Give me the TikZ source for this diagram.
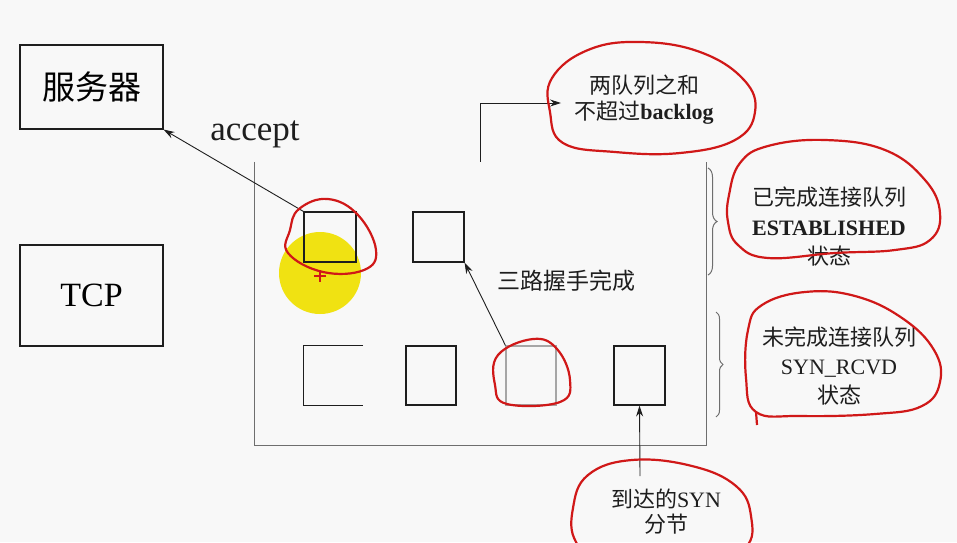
\documentclass[tikz,border=0pt]{standalone}
\usepackage{fontspec}
\setmainfont{Liberation Serif}
\newfontfamily\cjk{Noto Sans CJK SC}
\usetikzlibrary{decorations.pathreplacing,arrows.meta}
\definecolor{bgc}{HTML}{F8F8F8}
\definecolor{pen}{HTML}{D01818}
\definecolor{hl}{HTML}{F0E212}
\definecolor{ink}{HTML}{1E1E1E}
\definecolor{frame}{HTML}{6E6E6E}
\begin{document}
\begin{tikzpicture}[x=1pt,y=-1pt,
  box/.style={draw=ink,line width=1.1pt,inner sep=0pt},
  sq/.style={draw=ink,line width=1.1pt,inner sep=0pt},
  arr/.style={draw=ink,line width=0.9pt,-{Stealth[length=11pt,width=7pt]}},
  redpen/.style={draw=pen,line width=2.2pt,line join=round},
  lbl/.style={inner sep=0pt,align=center,text=ink},
  brc/.style={draw=frame,line width=1pt,decorate,decoration={brace,amplitude=9pt}}]
\fill[bgc] (0,0) rectangle (957,542);
\useasboundingbox (0,0) rectangle (957,542);
\clip (0,0) rectangle (957,542);

% left boxes
\node[box,minimum width=143pt,minimum height=84pt,font=\fontsize{33}{33}\selectfont\cjk] (srv) at (91.5,87) {服务器};
\node[box,minimum width=143pt,minimum height=101pt,font=\fontsize{34}{34}\selectfont] (tcp) at (91.5,295.5) {TCP};

% queue frame
\node[inner sep=0pt,minimum width=451pt,minimum height=283pt] (q) at (480.5,303.5) {};
\draw[frame,line width=1pt] (q.north west) -- (q.south west) -- (q.south east) -- (q.north east);

% highlight
\fill[hl] (320,273) circle (41pt);

% squares
\node[sq,minimum width=52pt,minimum height=50pt] (s1) at (330,237) {};
\node[sq,minimum width=51pt,minimum height=50pt] (s2) at (438.5,237) {};
\node[inner sep=0pt,minimum width=59pt,minimum height=59pt] (ba) at (333.5,375.5) {};
\draw[ink,line width=1.1pt] (ba.north east) -- (ba.north west) -- (ba.south west) -- (ba.south east);
\node[sq,minimum width=50pt,minimum height=59pt] (bb) at (431,375.5) {};
\node[sq,draw=gray!70,minimum width=50pt,minimum height=59pt] (bc) at (531,375.5) {};
\node[sq,minimum width=51pt,minimum height=59pt] (bd) at (639.5,375.5) {};

% braces
\draw[brc] (708,168) -- (708,275);
\draw[brc,decoration={brace,amplitude=7pt}] (716,312) -- (716,417);

% labels
\node[lbl,font=\fontsize{35}{35}\selectfont] (acc) at (255,134) {accept};
\node[lbl,font=\fontsize{23}{23}\selectfont\cjk] (hs) at (566,281) {三路握手完成};
\node[lbl,font=\fontsize{22}{26}\selectfont] (t1) at (644,100) {{\cjk 两队列之和}\\{\cjk 不超过}\textbf{backlog}};
\node[lbl,font=\fontsize{22}{29.5}\selectfont] (t2) at (829,227) {{\cjk 已完成连接队列}\\\textbf{ESTABLISHED}\\{\cjk 状态}};
\node[lbl,font=\fontsize{22}{29}\selectfont] (t3) at (839,366) {{\cjk 未完成连接队列}\\SYN\_RCVD\\{\cjk 状态}};
\node[lbl,font=\fontsize{22}{25}\selectfont] (t4) at (666,512) {{\cjk 到达的}SYN\\{\cjk 分节}};

% connectors
\coordinate (b1in) at (561,103);
\coordinate (synout) at (640,476);
\draw[arr] (s1.north west) -- (srv.south east);
\draw[arr] (bc.north west) -- (s2.south east);
\draw[arr] (q.north) |- (b1in);
\draw[arr] (synout) -- (bd.south);

% red hand-drawn marks
\draw[redpen] plot[smooth cycle,tension=0.7] coordinates {(552,78) (588,50) (640,42) (700,52) (744,80) (755,112) (735,140) (680,153) (615,152) (563,143) (550,112)};
\draw[redpen] plot[smooth cycle,tension=0.7] coordinates {(729,195) (740,163) (768,146) (825,140) (885,150) (925,180) (940,213) (930,240) (895,250) (835,253) (768,258) (738,245) (728,222)};
\draw[redpen] plot[smooth cycle,tension=0.7] coordinates {(748,330) (762,305) (805,292) (855,296) (902,318) (934,350) (940,382) (922,406) (875,414) (800,416) (756,412) (746,378)};
\draw[redpen] (756,412) -- (757,425);
\draw[redpen] plot[smooth cycle,tension=0.7] coordinates {(573,508) (588,475) (632,460) (692,466) (736,486) (751,516) (745,548) (700,565) (605,565) (576,542)};
\draw[redpen] plot[smooth cycle,tension=0.7] coordinates {(299,209) (328,199) (358,215) (376,250) (364,270) (323,272) (288,253) (290,230)};
\draw[pen,line width=1.5pt] (314,276) -- (326,276) (320,270) -- (320,282);
\draw[redpen] plot[smooth cycle,tension=0.7] coordinates {(498,355) (533,339) (557,349) (570,380) (560,402) (507,404) (495,385)};
\end{tikzpicture}
\end{document}
